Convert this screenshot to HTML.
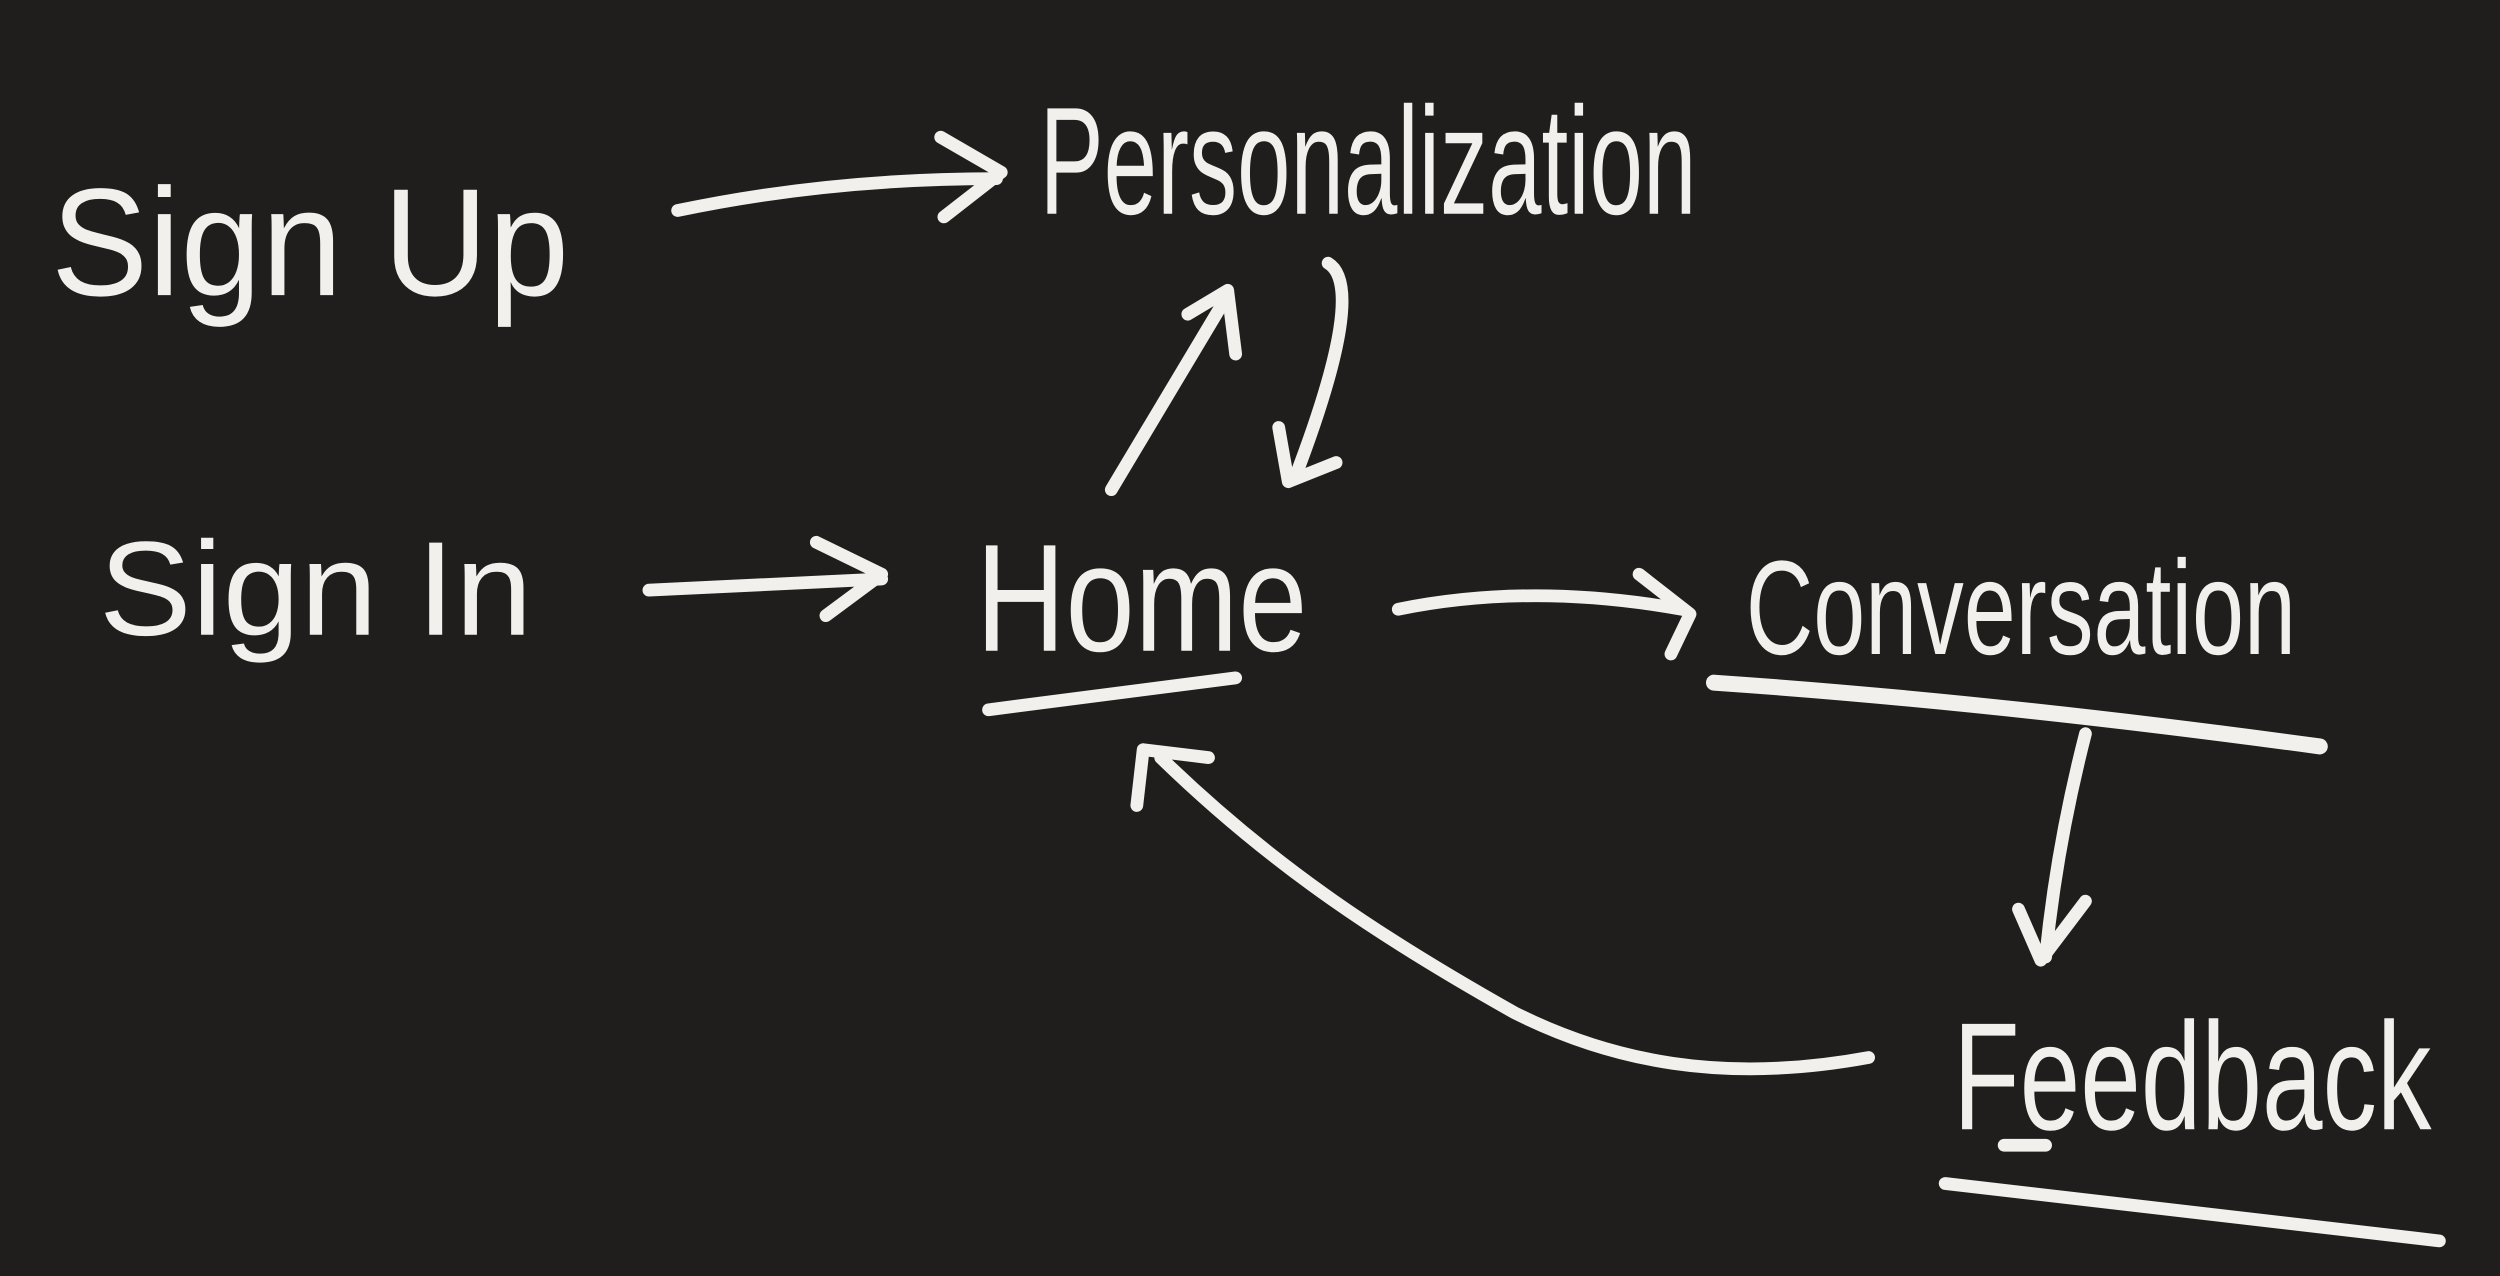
<!DOCTYPE html>
<html><head><meta charset="utf-8"><style>
html,body{margin:0;padding:0;background:#1f1e1d;}
svg{display:block;}
text{font-family:"Liberation Sans",sans-serif;fill:#f2f0ec;}
</style></head><body>
<svg width="2500" height="1276" viewBox="0 0 1568 800" preserveAspectRatio="none" xmlns="http://www.w3.org/2000/svg">
<rect width="1568" height="800" fill="#1f1e1d"/>
<g font-size="96">
<text x="32" y="185" textLength="325" lengthAdjust="spacingAndGlyphs">Sign Up</text>
<text x="652" y="134" textLength="412" lengthAdjust="spacingAndGlyphs">Personalization</text>
<text x="62" y="398" textLength="272" lengthAdjust="spacingAndGlyphs" font-size="84">Sign In</text>
<text x="612" y="408" textLength="208" lengthAdjust="spacingAndGlyphs">Home</text>
<text x="1095" y="410" textLength="345" lengthAdjust="spacingAndGlyphs" font-size="84">Conversation</text>
<text x="1225" y="708" textLength="300" lengthAdjust="spacingAndGlyphs">Feedback</text>
</g>
<g fill="none" stroke="#f2f0ec" stroke-width="8" stroke-linecap="round" stroke-linejoin="round">
<path d="M425 132 Q520 112 625 112"/>
<path d="M590 86 L628 108 L592 136"/>
<path d="M697 307 L770 185"/>
<path d="M745 197 L770 182 L775 222"/>
<path d="M833 165 Q858 180 812 300"/>
<path d="M802 268 L808 302 L838 290"/>
<path d="M407 370 L553 363"/>
<path d="M512 340 L553 360 L518 386"/>
<path d="M877 382 Q960 365 1055 382"/>
<path d="M1028 360 L1060 385 L1048 410"/>
<path d="M620 445 L775 425"/>
<path d="M1075 428 Q1250 440 1455 468" stroke-width="10"/>
<path d="M1308 460 Q1290 530 1283 600"/>
<path d="M1266 570 L1280 602 L1308 565"/>
<path d="M1172 663 C1080 680 1010 665 950 635 C870 590 800 545 728 475"/>
<path d="M713 505 L717 470 L758 475"/>
<path d="M1257 718 L1283 718"/>
<path d="M1220 742 L1530 778"/>
</g>
</svg>
</body></html>
